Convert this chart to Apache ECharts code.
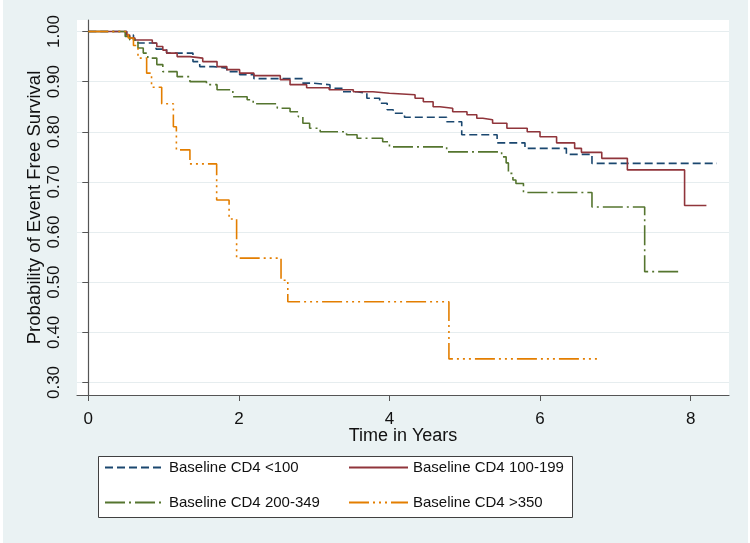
<!DOCTYPE html>
<html>
<head>
<meta charset="utf-8">
<script src="https://cdn.jsdelivr.net/npm/echarts@6/dist/echarts.min.js"></script>
<style>html,body{margin:0;padding:0;background:#fff;}#c{width:750px;height:543px;}</style>
</head>
<body>
<div id="c"></div>
<script>
const seriesNames = ['Baseline CD4 <100', 'Baseline CD4 100-199', 'Baseline CD4 200-349', 'Baseline CD4 >350'];
const xTicks = [0, 2, 4, 6, 8];
const yTicks = [0.3, 0.4, 0.5, 0.6, 0.7, 0.8, 0.9, 1.0];

const tLt100 = [0, 0.51, 0.6, 0.66, 0.9, 1.04, 1.39, 1.48, 1.66, 1.84, 2.01, 2.2, 2.85, 2.98, 3.21, 3.38, 3.57, 3.70, 3.87, 3.97, 4.05, 4.2, 4.76, 4.96, 5.43, 5.8, 6.35, 6.69, 8.35];
const sLt100 = [1.0, 0.993, 0.983, 0.977, 0.965, 0.957, 0.94, 0.93, 0.927, 0.92, 0.914, 0.906, 0.897, 0.894, 0.887, 0.88, 0.877, 0.867, 0.857, 0.844, 0.837, 0.829, 0.82, 0.794, 0.778, 0.767, 0.755, 0.737, 0.737];

const t100 = [0, 0.51, 0.55, 0.62, 0.85, 0.91, 0.99, 1.04, 1.18, 1.35, 1.52, 1.71, 1.84, 2.01, 2.2, 2.55, 2.68, 2.9, 3.2, 3.52, 3.78, 4.0, 4.34, 4.45, 4.58, 4.67, 4.84, 5.03, 5.16, 5.24, 5.37, 5.56, 5.83, 6.0, 6.22, 6.46, 6.55, 6.82, 7.16, 7.92, 8.21];
const s100 = [1.0, 0.993, 0.987, 0.983, 0.977, 0.97, 0.963, 0.957, 0.95, 0.947, 0.94, 0.93, 0.924, 0.917, 0.912, 0.904, 0.894, 0.888, 0.884, 0.88, 0.877, 0.874, 0.867, 0.86, 0.85, 0.847, 0.84, 0.834, 0.827, 0.824, 0.817, 0.807, 0.80, 0.79, 0.778, 0.767, 0.759, 0.747, 0.724, 0.653, 0.653];

const t200 = [0, 0.49, 0.55, 0.66, 0.73, 0.79, 0.91, 0.99, 1.18, 1.35, 1.57, 1.71, 1.92, 2.11, 2.19, 2.51, 2.68, 2.79, 2.85, 2.94, 3.08, 3.43, 3.57, 3.91, 4.0, 4.76, 5.49, 5.55, 5.58, 5.64, 5.68, 5.78, 6.69, 7.39, 7.84];
const s200 = [1.0, 0.99, 0.983, 0.967, 0.957, 0.947, 0.934, 0.92, 0.91, 0.90, 0.894, 0.884, 0.870, 0.864, 0.856, 0.847, 0.84, 0.83, 0.817, 0.807, 0.80, 0.794, 0.787, 0.78, 0.77, 0.76, 0.75, 0.738, 0.717, 0.704, 0.697, 0.679, 0.65, 0.521, 0.521];

const t350 = [0, 0.53, 0.6, 0.66, 0.775, 0.84, 0.975, 1.13, 1.17, 1.35, 1.705, 1.87, 1.97, 2.56, 2.65, 4.79, 6.80];
const s350 = [1.0, 0.987, 0.972, 0.947, 0.917, 0.889, 0.856, 0.81, 0.764, 0.736, 0.664, 0.626, 0.548, 0.504, 0.461, 0.347, 0.347];

const colors = ['#1a476f', '#90353b', '#55752f', '#e37e00'];
const dashes = [[8, 4], 'solid', [20, 4, 2, 4], [20, 4, 2, 4, 2, 4, 2, 4]];
const times = [tLt100, t100, t200, t350];
const survs = [sLt100, s100, s200, s350];

const font = "'Liberation Sans', Arial, sans-serif";
const chart = echarts.init(document.getElementById('c'));

const series = seriesNames.map((name, i) => ({
  name: name,
  type: 'line',
  step: 'end',
  symbol: 'none',
  showSymbol: false,
  animation: false,
  data: times[i].map((t, k) => [t, survs[i][k]]),
  lineStyle: { color: colors[i], width: 1.6, type: dashes[i] },
  itemStyle: { color: colors[i] }
}));

const legendCommon = {
  orient: 'vertical',
  top: 455,
  padding: 5,
  itemWidth: 59,
  itemHeight: 14,
  itemGap: 20,
  selectedMode: false,
  itemStyle: { opacity: 0 },
  textStyle: { fontFamily: font, fontSize: 15, color: '#111' }
};

chart.setOption({
  backgroundColor: '#eaf2f3',
  animation: false,
  textStyle: { fontFamily: font },
  grid: { left: 77, top: 20, right: 21, bottom: 148, show: true, backgroundColor: '#ffffff', borderWidth: 0 },
  graphic: [
    { type: 'rect', shape: { x: 0, y: 0, width: 3, height: 543 }, style: { fill: '#ffffff' }, silent: true },
    { type: 'rect', shape: { x: 748, y: 0, width: 2, height: 543 }, style: { fill: '#ffffff' }, silent: true },
    { type: 'rect', shape: { x: 98.5, y: 456.5, width: 474, height: 61 }, style: { fill: '#ffffff', stroke: '#404040', lineWidth: 1 }, silent: true, z: 1 }
  ],
  legend: [
    Object.assign({ left: 99, data: [seriesNames[0], seriesNames[2]] }, legendCommon),
    Object.assign({ left: 343, data: [seriesNames[1], seriesNames[3]] }, legendCommon)
  ],
  xAxis: {
    type: 'value', min: -0.15, max: 8.51,
    name: 'Time in Years', nameLocation: 'middle', nameGap: 32, nameMoveOverlap: false,
    nameTextStyle: { fontFamily: font, fontSize: 18, color: '#111' },
    axisLine: { show: true, lineStyle: { color: '#555', width: 1.2 } },
    axisTick: { show: true, length: 6, customValues: xTicks, lineStyle: { color: '#555' } },
    axisLabel: { customValues: xTicks, fontSize: 17, color: '#111', margin: 16, fontFamily: font },
    splitLine: { show: false }
  },
  yAxis: {
    type: 'value', min: 0.275, max: 1.023,
    name: 'Probability of Event Free Survival', nameLocation: 'middle', nameGap: 33, nameRotate: 90, nameMoveOverlap: false,
    nameTextStyle: { fontFamily: font, fontSize: 18.5, color: '#111' },
    axisLine: { show: true, lineStyle: { color: '#555', width: 1.2 } },
    axisTick: { show: true, length: 6, customValues: yTicks, lineStyle: { color: '#555' } },
    axisLabel: { customValues: yTicks, rotate: 90, fontSize: 17, color: '#111', margin: 14, fontFamily: font,
      formatter: v => Number(v).toFixed(2) },
    splitLine: { show: true, lineStyle: { color: '#e6edef', width: 1.2 } }
  },
  series: series
});
</script>
</body>
</html>
